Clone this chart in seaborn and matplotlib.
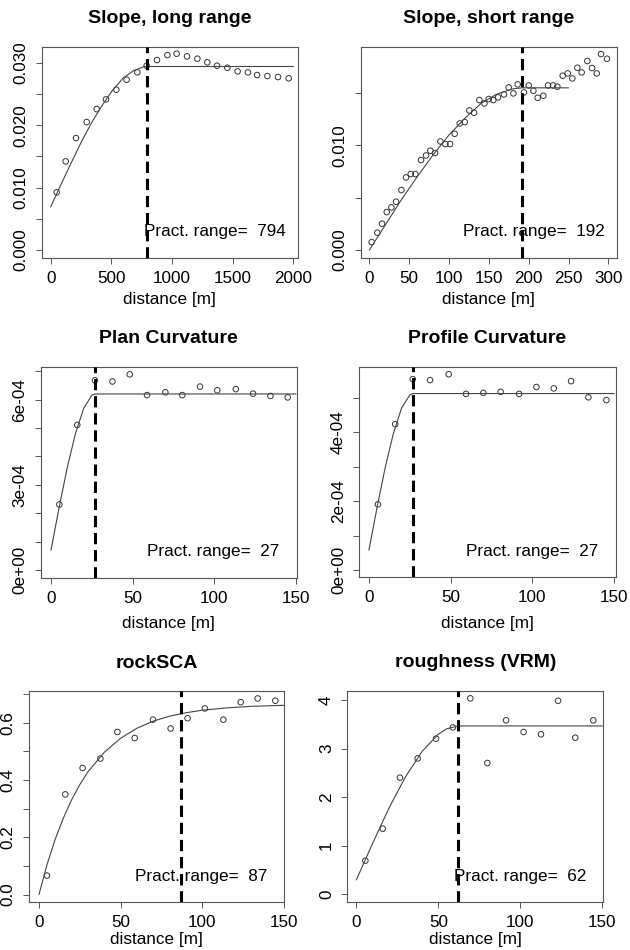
import numpy as np
import pandas as pd
import matplotlib
matplotlib.use("Agg")
import matplotlib.pyplot as plt
import seaborn as sns

sns.set_style("ticks")
plt.rcParams['font.family'] = ['Liberation Sans', 'DejaVu Sans']
plt.rcParams['text.color'] = 'black'
plt.rcParams['axes.labelcolor'] = 'black'
plt.rcParams['xtick.labelcolor'] = 'black'
plt.rcParams['ytick.labelcolor'] = 'black'

# ---------------- data ----------------
titles = ["Slope, long range", "Slope, short range", "Plan Curvature",
          "Profile Curvature", "rockSCA", "roughness (VRM)"]
pract_range = [794, 192, 27, 27, 87, 62]

# panel 1: slope long range
p1_dist = [49.5, 123.6, 208.8, 296.7, 379, 456, 541, 626, 714, 791, 876, 962, 1038,
           1124, 1209, 1291, 1371, 1456, 1541, 1626, 1701, 1786, 1874, 1962]
p1_gamma = [0.00924, 0.0142, 0.01794, 0.0205, 0.02258, 0.02413, 0.02568, 0.02728,
            0.02846, 0.02952, 0.03043, 0.03123, 0.03145, 0.03102, 0.03065, 0.03006,
            0.02952, 0.0292, 0.02862, 0.02846, 0.02803, 0.02787, 0.02771, 0.0275]
p1_model_x = [0, 85, 170, 255, 340, 425, 510, 595, 680, 765, 794, 2000]
p1_model_y = [0.0069, 0.0105, 0.0140, 0.0174, 0.0205, 0.0232, 0.0256, 0.0275,
              0.0287, 0.02935, 0.0294, 0.0294]

# panel 2: slope short range
p2_dist = [2.9, 10.0, 15.9, 21.8, 27.6, 33.5, 40.2, 46.0, 51.9, 57.7, 64.9, 71.1, 76.6,
           82.4, 89.1, 95.4, 101.3, 107.1, 113.4, 119.7, 125.5, 131.4, 138.1, 144.4,
           149.8, 155.6, 161.5, 169.0, 174.9, 180.8, 186.2, 194.1, 200.0, 205.9,
           211.3, 218.4, 224.3, 230.5, 236.0, 242.7, 249.0, 254.8, 261.1, 266.5,
           273.6, 279.5, 285.4, 290.8, 298.3]
p2_gamma = [0.00076, 0.00166, 0.00252, 0.00363, 0.00408, 0.00462, 0.00573, 0.00694,
            0.00726, 0.00726, 0.0086, 0.00904, 0.00949, 0.00927, 0.01038, 0.01013,
            0.01013, 0.01111, 0.0121, 0.01223, 0.01334, 0.01312, 0.01433, 0.01401,
            0.01443, 0.01433, 0.01459, 0.01487, 0.01554, 0.01497, 0.01583, 0.01506,
            0.01573, 0.01522, 0.01455, 0.01475, 0.01573, 0.01573, 0.01561, 0.01666,
            0.01688, 0.0164, 0.01742, 0.01697, 0.01806, 0.01739, 0.01688, 0.01873,
            0.01828]
p2_model_x = [0, 20, 40, 60, 80, 100, 120, 140, 160, 180, 192, 250]
p2_model_y = [0.0, 0.0024, 0.0048, 0.0070, 0.0091, 0.0110, 0.0126, 0.0140, 0.0149,
              0.0154, 0.0155, 0.0155]

# panel 3: plan curvature
p3_dist = [5.1, 16.1, 26.9, 37.6, 48.2, 58.8, 70.0, 80.4, 91.2, 101.8, 113.1, 123.7,
           134.3, 144.9]
p3_gamma = [2.31e-4, 5.11e-4, 6.68e-4, 6.64e-4, 6.89e-4, 6.16e-4, 6.26e-4, 6.16e-4,
            6.46e-4, 6.33e-4, 6.37e-4, 6.21e-4, 6.13e-4, 6.08e-4]
p3_model_x = [0, 5, 10, 15, 20, 25, 27, 150]
p3_model_y = [0.70e-4, 2.21e-4, 3.62e-4, 4.81e-4, 5.69e-4, 6.16e-4, 6.20e-4, 6.20e-4]

# panel 4: profile curvature
p4_dist = [5.5, 16.1, 26.8, 37.4, 48.8, 59.4, 70.0, 80.6, 91.9, 102.5, 113.1, 123.7,
           134.3, 145.3]
p4_gamma = [1.91e-4, 4.24e-4, 5.55e-4, 5.52e-4, 5.69e-4, 5.12e-4, 5.15e-4, 5.18e-4,
            5.12e-4, 5.32e-4, 5.28e-4, 5.49e-4, 5.02e-4, 4.94e-4]
p4_model_x = [0, 5, 10, 15, 20, 25, 27, 150]
p4_model_y = [0.58e-4, 1.83e-4, 2.99e-4, 3.98e-4, 4.71e-4, 5.09e-4, 5.13e-4, 5.13e-4]

# panel 5: rockSCA
p5_dist = [4.9, 16.1, 26.7, 37.6, 48.0, 58.6, 69.8, 80.6, 91.0, 101.6, 112.9, 123.5,
           133.9, 144.7]
p5_gamma = [0.0665, 0.350, 0.442, 0.475, 0.568, 0.547, 0.611, 0.580, 0.616, 0.650,
            0.611, 0.672, 0.685, 0.677]
p5_model_x = [0, 5, 10, 15, 20, 25, 30, 40, 50, 60, 70, 80, 90, 100, 115, 130, 150]
p5_model_y = [0.0, 0.106, 0.194, 0.268, 0.331, 0.384, 0.429, 0.497, 0.546, 0.581,
              0.606, 0.623, 0.635, 0.644, 0.652, 0.6575, 0.661]

# panel 6: roughness
p6_dist = [5.5, 16.1, 26.6, 37.4, 48.6, 58.9, 69.5, 79.9, 91.3, 102.0, 112.6, 123.0,
           133.5, 144.5]
p6_gamma = [0.688, 1.349, 2.402, 2.80, 3.207, 3.44, 4.04, 2.705, 3.586, 3.345, 3.297,
            3.99, 3.228, 3.586]
p6_model_x = [0, 10, 20, 30, 40, 50, 55, 62, 150]
p6_model_y = [0.29, 1.05, 1.78, 2.42, 2.94, 3.30, 3.41, 3.47, 3.47]

xticks = [[0, 500, 1000, 1500, 2000], [0, 50, 100, 150, 200, 250, 300],
          [0, 50, 100, 150], [0, 50, 100, 150], [0, 50, 100, 150], [0, 50, 100, 150]]
yticks = [[0, 0.005, 0.010, 0.015, 0.020, 0.025, 0.030],
          [0, 0.005, 0.010, 0.015],
          [0, 1e-4, 2e-4, 3e-4, 4e-4, 5e-4, 6e-4, 7e-4],
          [0, 1e-4, 2e-4, 3e-4, 4e-4, 5e-4],
          [0, 0.1, 0.2, 0.3, 0.4, 0.5, 0.6, 0.7],
          [0, 1, 2, 3, 4]]
yticklabels = [["0.000", "", "0.010", "", "0.020", "", "0.030"],
               ["0.000", "", "0.010", ""],
               ["0e+00", "", "", "3e-04", "", "", "6e-04", ""],
               ["0e+00", "", "2e-04", "", "4e-04", ""],
               ["0.0", "", "0.2", "", "0.4", "", "0.6", ""],
               ["0", "1", "2", "3", "4"]]

panels = [
    (p1_dist, p1_gamma, p1_model_x, p1_model_y),
    (p2_dist, p2_gamma, p2_model_x, p2_model_y),
    (p3_dist, p3_gamma, p3_model_x, p3_model_y),
    (p4_dist, p4_gamma, p4_model_x, p4_model_y),
    (p5_dist, p5_gamma, p5_model_x, p5_model_y),
    (p6_dist, p6_gamma, p6_model_x, p6_model_y),
]

# ---------------- layout (pixels) ----------------
W, H = 630, 950
boxes = [  # x0, x1, ytop, ybottom in pixels
    (41.7, 297.7, 46.7, 257.7),
    (360.7, 616.7, 46.7, 257.7),
    (40.7, 296.7, 366.7, 577.7),
    (359.3, 615.7, 366.7, 577.3),
    (29.0, 284.3, 691.0, 902.3),
    (347.3, 603.3, 690.7, 902.3),
]
xlims = [(-74, 2036), (-10.9, 310.5), (-6.3, 150.4), (-5.9, 151.0), (-6.1, 150.2),
         (-5.5, 150.6)]
ylims = [(-0.00123, 0.03257), (-0.00073, 0.01943), (-0.27e-4, 7.16e-4),
         (-0.21e-4, 5.91e-4), (-0.027, 0.711), (-0.172, 4.198)]
xlabel_off = [42, 42, 46, 46, 37, 37]

fig = plt.figure(figsize=(W / 100, H / 100), dpi=100)
frame_col = "#555555"
for i, (dist, gamma, mx, my) in enumerate(panels):
    x0, x1, yt, yb = boxes[i]
    ax = fig.add_axes([x0 / W, 1 - yb / H, (x1 - x0) / W, (yb - yt) / H])
    hpx = yb - yt
    df_pts = pd.DataFrame({"dist": dist, "gamma": gamma})
    df_mod = pd.DataFrame({"dist": mx, "gamma": my})
    sns.lineplot(data=df_mod, x="dist", y="gamma", ax=ax, color="#444444",
                 linewidth=0.8, sort=True, estimator=None)
    sns.scatterplot(data=df_pts, x="dist", y="gamma", ax=ax, marker="o",
                    facecolor="none", edgecolor="#333333", s=16, linewidth=0.7)
    ax.axvline(pract_range[i], color="black", linewidth=2.2, dashes=(3.7, 1.9),
               zorder=5)
    ax.text(0.675, 0.123, f"Pract. range=  {pract_range[i]}", transform=ax.transAxes,
            ha="center", va="center", fontsize=12.3, zorder=3, color="black")
    ax.set_xlim(*xlims[i])
    ax.set_ylim(*ylims[i])
    ax.set_xticks(xticks[i])
    ax.set_xticklabels([str(t) for t in xticks[i]])
    ax.set_yticks(yticks[i])
    ax.set_yticklabels(yticklabels[i], rotation=90, va="center")
    ax.tick_params(axis="both", length=4.5, width=0.7, color=frame_col,
                   labelcolor="black", labelsize=12.3, pad=5)
    for sp in ax.spines.values():
        sp.set_color(frame_col)
        sp.set_linewidth(0.8)
        sp.set_visible(True)
    ax.set_ylabel("")
    ax.set_xlabel("distance [m]", fontsize=12.3, color="black")
    ax.xaxis.set_label_coords(0.5, -xlabel_off[i] / hpx)
    ax.xaxis.label.set_va("center")
    ax.text(0.5, 1 + 28 / hpx, titles[i], transform=ax.transAxes, ha="center",
            va="center", fontsize=14, fontweight="bold", color="black")

fig.savefig("out.png", dpi=100)
